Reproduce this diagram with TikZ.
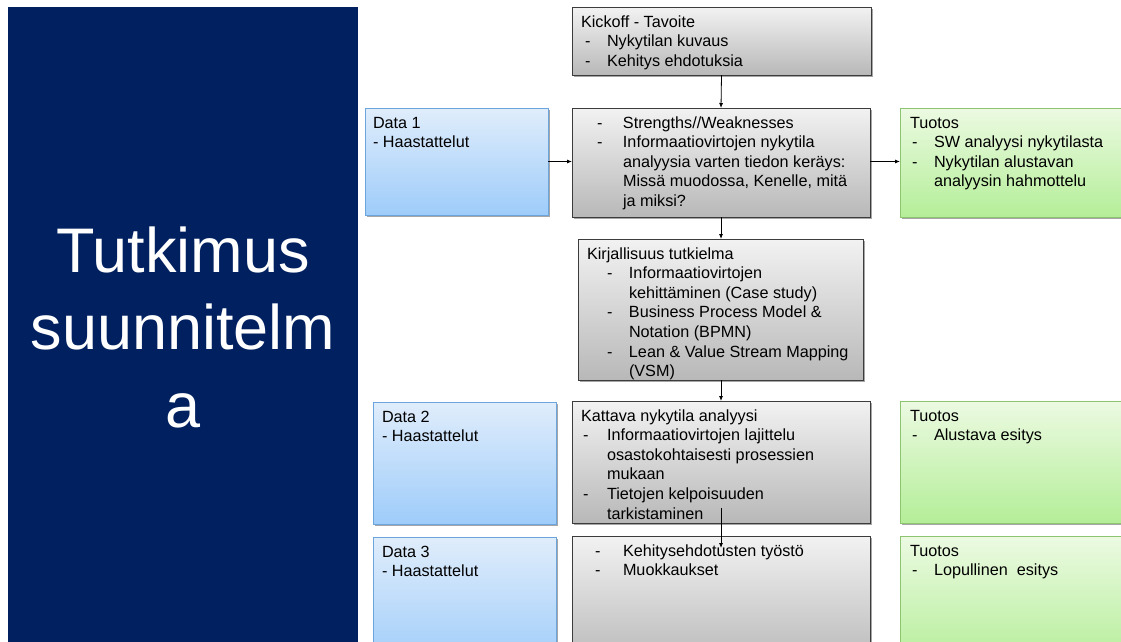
\documentclass[tikz,border=0pt]{standalone}
\usepackage{fontspec}
\setmainfont{Liberation Sans}
\usetikzlibrary{shadows,arrows.meta}

\definecolor{navy}{RGB}{1,32,96}
\definecolor{grayedge}{RGB}{60,60,60}
\definecolor{graytop}{RGB}{242,242,242}
\definecolor{graybot}{RGB}{184,184,184}
\definecolor{blueedge}{RGB}{108,165,222}
\definecolor{bluetop}{RGB}{224,237,251}
\definecolor{bluebot}{RGB}{158,204,250}
\definecolor{greenedge}{RGB}{140,196,112}
\definecolor{greentop}{RGB}{236,250,226}
\definecolor{greenbot}{RGB}{180,238,152}

% dash bullet: dash at #1pt, text starting at #2pt from the box edge
\newcommand\bl[2]{\makebox[#2pt][l]{\hspace*{#1pt}-}}
\newcommand\ct[1]{\hspace*{#1pt}}

\tikzset{
  basebox/.style={rectangle, anchor=north west, inner sep=0pt, outer sep=0pt, line width=1pt,
    drop shadow={shadow xshift=1.5pt, shadow yshift=-1.5pt, opacity=0.35, fill=black}},
  graybox/.style={basebox, draw=grayedge, top color=graytop, bottom color=graybot},
  bluebox/.style={basebox, draw=blueedge, top color=bluetop, bottom color=bluebot},
  greenbox/.style={basebox, draw=greenedge, top color=greentop, bottom color=greenbot},
  txt/.style={anchor=north west, inner sep=0pt, outer sep=0pt, align=left,
    font=\fontsize{16.2}{19.6}\selectfont},
  arr/.style={line width=0.8pt, -{Latex[length=5pt,width=4pt]}},
}

\begin{document}
\begin{tikzpicture}[x=1pt, y=-1pt]
\useasboundingbox (0,0) rectangle (1121,641);
\clip (0,0) rectangle (1121,641);
\fill[white] (0,0) rectangle (1121,641);

% title panel
\fill[navy] (8,7) rectangle (358,660);
\node[anchor=north, inner sep=0pt, align=center, text=white,
      font=\fontsize{63}{77.5}\selectfont] (title) at (183,222)
  {\rule{0pt}{50pt}Tutkimus\\suunnitelm\\a};

% process column
\node[graybox, minimum width=299pt, minimum height=68pt] (k) at (572,7) {};
\node[graybox, minimum width=298pt, minimum height=109pt] (s) at (572,108) {};
\node[graybox, minimum width=285pt, minimum height=141pt] (kir) at (578,239) {};
\node[graybox, minimum width=298pt, minimum height=122pt] (kat) at (572,401) {};
\node[graybox, minimum width=298pt, minimum height=130pt] (g3) at (572,536) {};

% data column
\node[bluebox, minimum width=183pt, minimum height=107pt] (d1) at (365,108) {};
\node[bluebox, minimum width=183pt, minimum height=122pt] (d2) at (373,402) {};
\node[bluebox, minimum width=183pt, minimum height=130pt] (d3) at (373,537) {};

% output column
\node[greenbox, minimum width=240pt, minimum height=109pt] (t1) at (900,108) {};
\node[greenbox, minimum width=240pt, minimum height=122pt] (t2) at (900,401) {};
\node[greenbox, minimum width=240pt, minimum height=130pt] (t3) at (900,536) {};

% texts
\node[txt] (k-t) at ([yshift=-8pt]k.north west)
  {\rule{0pt}{12pt}\ct{9}Kickoff - Tavoite\\
   \bl{13}{35}Nykytilan kuvaus\\
   \bl{13}{35}Kehitys ehdotuksia};
\node[txt] (s-t) at ([yshift=-8pt]s.north west)
  {\rule{0pt}{12pt}\bl{25}{51}Strengths//Weaknesses\\
   \bl{25}{51}Informaatiovirtojen nykytila\\
   \ct{51}analyysia varten tiedon keräys:\\
   \ct{51}Missä muodossa, Kenelle, mitä\\
   \ct{51}ja miksi?};
\node[txt] (kir-t) at ([yshift=-8pt]kir.north west)
  {\rule{0pt}{12pt}\ct{9}Kirjallisuus tutkielma\\
   \bl{29}{51}Informaatiovirtojen\\
   \ct{51}kehittäminen (Case study)\\
   \bl{29}{51}Business Process Model \&\\
   \ct{51}Notation (BPMN)\\
   \bl{29}{51}Lean \& Value Stream Mapping\\
   \ct{51}(VSM)};
\node[txt] (kat-t) at ([yshift=-8pt]kat.north west)
  {\rule{0pt}{12pt}\ct{9}Kattava nykytila analyysi\\
   \bl{11}{35}Informaatiovirtojen lajittelu\\
   \ct{35}osastokohtaisesti prosessien\\
   \ct{35}mukaan\\
   \bl{11}{35}Tietojen kelpoisuuden\\
   \ct{35}tarkistaminen};
\node[txt] (g3-t) at ([yshift=-8pt]g3.north west)
  {\rule{0pt}{12pt}\bl{23}{51}Kehitysehdotusten työstö\\
   \bl{23}{51}Muokkaukset};

\node[txt] (d1-t) at ([xshift=8pt,yshift=-8pt]d1.north west)
  {\rule{0pt}{12pt}Data 1\\- Haastattelut};
\node[txt] (d2-t) at ([xshift=9pt,yshift=-8pt]d2.north west)
  {\rule{0pt}{12pt}Data 2\\- Haastattelut};
\node[txt] (d3-t) at ([xshift=9pt,yshift=-8pt]d3.north west)
  {\rule{0pt}{12pt}Data 3\\- Haastattelut};

\node[txt] (t1-t) at ([yshift=-8pt]t1.north west)
  {\rule{0pt}{12pt}\ct{10}Tuotos\\
   \bl{12}{34}SW analyysi nykytilasta\\
   \bl{12}{34}Nykytilan alustavan\\
   \ct{34}analyysin hahmottelu};
\node[txt] (t2-t) at ([yshift=-8pt]t2.north west)
  {\rule{0pt}{12pt}\ct{10}Tuotos\\
   \bl{12}{34}Alustava esitys};
\node[txt] (t3-t) at ([yshift=-8pt]t3.north west)
  {\rule{0pt}{12pt}\ct{10}Tuotos\\
   \bl{12}{34}Lopullinen\ \ esitys};

% connectors
\draw[arr] (k.south) -- (s.north);
\draw[arr] (d1.east) -- (d1.east -| s.west);
\draw[arr] (s.east |- d1.east) -- (d1.east -| t1.west);
\draw[arr] (s.south) -- (s.south |- kir.north);
\draw[arr] (s.south |- kir.south) -- (s.south |- kat.north);
\draw[arr] ([yshift=15pt]s.south |- kat.south) -- ([yshift=-12pt]s.south |- g3.north);
\end{tikzpicture}
\end{document}
